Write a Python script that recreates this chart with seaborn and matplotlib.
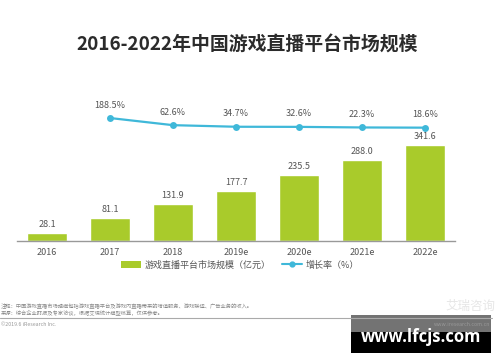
import matplotlib
matplotlib.use("Agg")
import matplotlib.pyplot as plt
from matplotlib.patches import Patch, Rectangle
from matplotlib.lines import Line2D
import pandas as pd
import seaborn as sns

years = ['2016', '2017', '2018', '2019e', '2020e', '2021e', '2022e']
market = [28.1, 81.1, 131.9, 177.7, 235.5, 288.0, 341.6]
growth_years = ['2017', '2018', '2019e', '2020e', '2021e', '2022e']
growth = [188.5, 62.6, 34.7, 32.6, 22.3, 18.6]

bar_color = '#a9cb2b'
line_color = '#3fb8d9'

sns.set_theme(style='white')
plt.rcParams['font.family'] = ['Noto Sans CJK SC', 'DejaVu Sans']

W, H = 500, 362
fig = plt.figure(figsize=(W / 100, H / 100), dpi=100)

def fx(px):
    return px / W

def fy(px):
    return 1 - px / H

# main axes: x 17..455 px, y 100..241 px
ax = fig.add_axes([fx(17), fy(241), fx(455 - 17), (241 - 100) / H])
df = pd.DataFrame({'year': years, 'market': market})
sns.barplot(data=df, x='year', y='market', order=years, color=bar_color,
            saturation=1, width=0.62, ax=ax)
ax.set_xlim(-0.476, 6.476)
ax.set_ylim(0, 502)
for i, v in enumerate(market):
    ax.text(i, v + 14, f'{v:.1f}', ha='center', va='bottom', fontsize=6.5, color='#555555')
ax.set_xlabel('')
ax.set_ylabel('')
ax.set_yticks([])
ax.tick_params(axis='x', length=0, labelsize=6.5, colors='#555555', pad=5)
for s in ['top', 'right', 'left']:
    ax.spines[s].set_visible(False)
ax.spines['bottom'].set_color('#999999')
ax.spines['bottom'].set_linewidth(1)

# growth line on twin axis
ax2 = ax.twinx()
gdf = pd.DataFrame({'pos': [years.index(y) for y in growth_years], 'growth': growth})
sns.lineplot(data=gdf, x='pos', y='growth', color=line_color, linewidth=1.6,
             marker='o', markersize=5, markeredgewidth=0, ax=ax2)
ax2.set_ylim(-1978, 506)
ax2.set_xlim(-0.476, 6.476)
for p, v in zip(gdf['pos'], growth):
    ax2.text(p, v + 150, f'{v:.1f}%', ha='center', va='bottom', fontsize=6.5, color='#555555')
ax2.set_yticks([])
ax2.set_ylabel('')
ax2.set_xlabel('')
for s in ['top', 'right', 'left', 'bottom']:
    ax2.spines[s].set_visible(False)

# title
fig.text(0.495, fy(45), '2016-2022年中国游戏直播平台市场规模', ha='center', va='center',
         fontsize=13.6, fontweight='bold', color='#2b2b2b')

# legend
handles = [Patch(facecolor=bar_color, edgecolor='none'),
           Line2D([0], [0], color=line_color, marker='o', markersize=3.5, linewidth=1.5)]
fig.legend(handles, ['游戏直播平台市场规模（亿元）', '增长率（%）'], loc='center',
           bbox_to_anchor=(fx(240), fy(265)), ncol=2, frameon=False, fontsize=6.5,
           handlelength=2.2, handleheight=0.7, columnspacing=1.2, handletextpad=0.4,
           labelcolor='#555555')

# footer
fig.text(fx(1), fy(306), '注释：中国游戏直播市场规模包括游戏直播平台及游戏内直播带来的增值服务、游戏联运、广告业务的收入。',
         fontsize=3.8, color='#888888', va='center')
fig.text(fx(1), fy(313), '来源：综合企业财报及专家访谈，根据艾瑞统计模型核算，仅供参考。',
         fontsize=3.8, color='#888888', va='center')
fig.add_artist(Line2D([0, fx(492)], [fy(318), fy(318)], color='#aaaaaa', linewidth=0.8))
fig.text(fx(1), fy(325), '©2019.6 iResearch Inc.', fontsize=3.8, color='#999999', va='center')
fig.text(fx(470), fy(306), '艾瑞咨询', fontsize=9, color='#e6e6e6', va='center', ha='center')
fig.text(fx(490), fy(325), 'www.iresearch.com.cn', fontsize=3.8, color='#999999', va='center', ha='right')

# watermark overlay
fig.add_artist(Rectangle((fx(351), fy(332)), fx(140), 17 / H, transform=fig.transFigure,
                         facecolor='#000000', alpha=0.55, edgecolor='none'))
fig.add_artist(Rectangle((fx(351), fy(353)), fx(140), 21 / H, transform=fig.transFigure,
                         facecolor='#000000', edgecolor='none'))
fig.text(fx(421), fy(337), 'www.lfcjs.com', fontsize=12, fontweight='bold', color='white',
         ha='center', va='center', family=['Open Sans', 'DejaVu Sans'])

fig.savefig('out.png', dpi=100, facecolor='white')
